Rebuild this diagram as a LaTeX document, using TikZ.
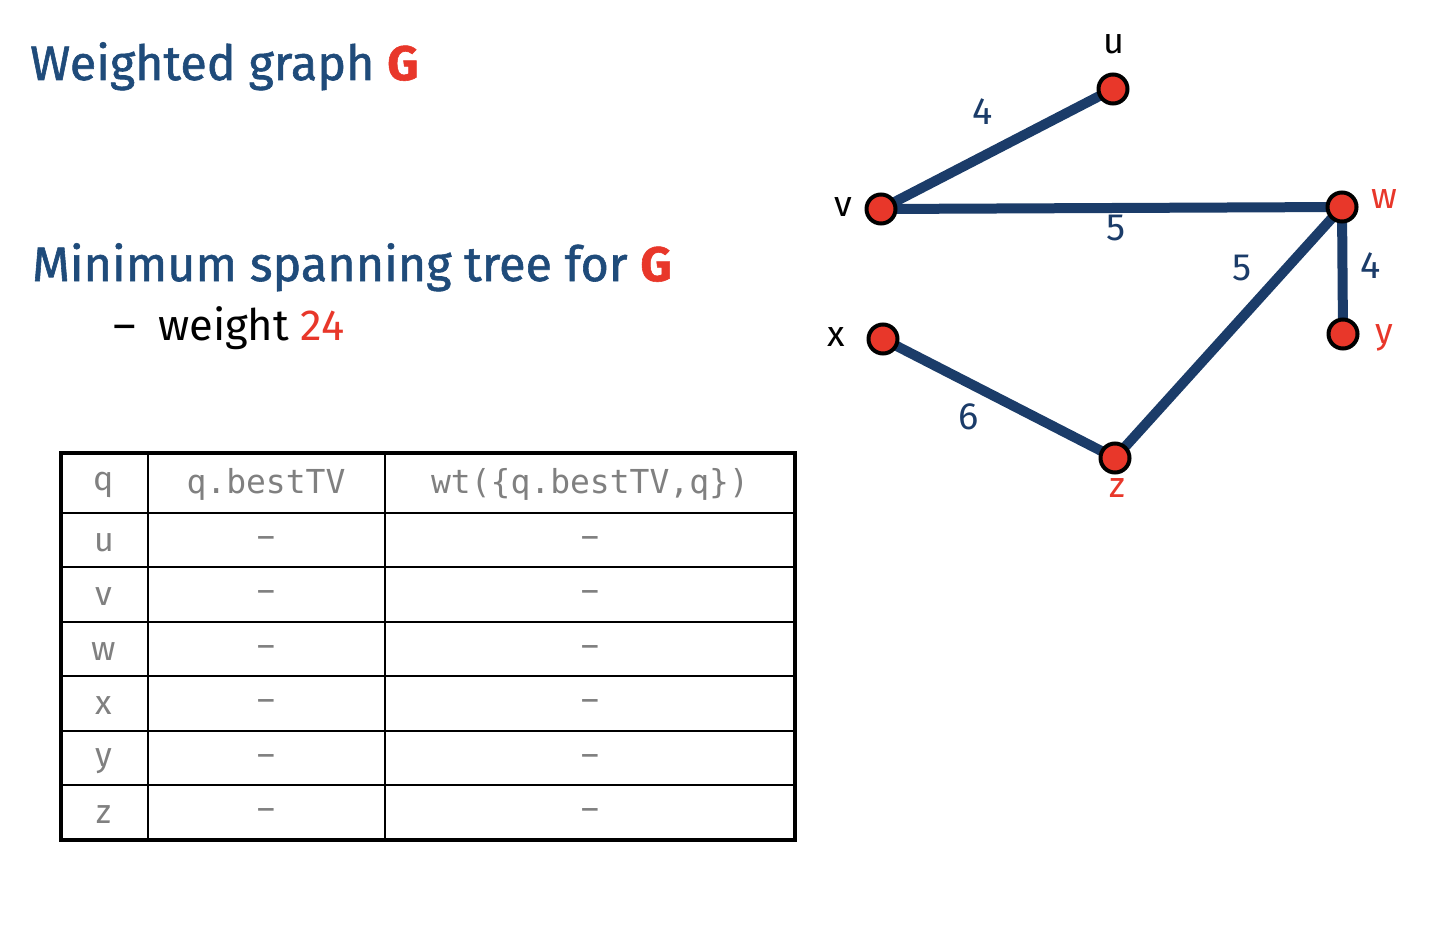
\documentclass[tikz,border=0pt]{standalone}
\usepackage{fontspec}
\setmainfont{Fira Sans}
\setmonofont{DejaVu Sans Mono}
\newfontfamily\headfont[FakeBold=1.2]{Fira Sans}
\usetikzlibrary{backgrounds}
\definecolor{navy}{HTML}{1B3C69}
\definecolor{titleblue}{HTML}{1F4B7A}
\definecolor{hot}{HTML}{E8372A}
\definecolor{cellgrey}{HTML}{808080}
\begin{document}
\begin{tikzpicture}[x=1pt,y=-1pt,
  vert/.style={circle,minimum size=29pt,inner sep=0pt,fill=hot,draw=black,line width=4pt},
  edge/.style={draw=navy,line width=10pt},
  vlabel/.style={font=\fontsize{36}{40}\selectfont,inner sep=0pt},
  wlabel/.style={font=\fontsize{38}{40}\selectfont,text=navy,inner sep=0pt},
  heading/.style={font=\headfont\fontsize{48.5}{52}\selectfont,text=titleblue,anchor=base west,inner sep=0pt},
  cell/.style={text=cellgrey,font=\fontsize{34}{36}\selectfont,inner sep=0pt},
  monocell/.style={text=cellgrey,font=\ttfamily\fontsize{33}{36}\selectfont,inner sep=0pt},
  thin rule/.style={line width=2pt},
  thick rule/.style={line width=4pt}]
\useasboundingbox (0,0) rectangle (1456,942);

% headings
\node[heading] (t1) at (30,80) {Weighted graph \textcolor{hot}{\bfseries G}};
\node[heading] (t2) at (32,281) {Minimum spanning tree for \textcolor{hot}{\bfseries G}};
\node[anchor=base west,inner sep=0pt,font=\fontsize{43.5}{46}\selectfont] (dash) at (113,340) {–};
\node[anchor=base west,inner sep=0pt,font=\fontsize{43.5}{46}\selectfont] (wt) at (158,340) {weight \textcolor{hot}{24}};

% vertices
\node[vert] (u) at (1113,89) {};
\node[vert] (v) at (881,209) {};
\node[vert] (w) at (1342,207) {};
\node[vert] (x) at (883,339) {};
\node[vert] (y) at (1343,334) {};
\node[vert] (z) at (1115,458) {};

% edges of the spanning tree
\begin{scope}[on background layer]
\draw[edge] (v.center) -- (u.center);
\draw[edge] (v.center) -- (w.center);
\draw[edge] (w.center) -- (y.center);
\draw[edge] (w.center) -- (z.center);
\draw[edge] (x.center) -- (z.center);
\end{scope}

% vertex names
\node[vlabel] (lu) at (1114,44) {u};
\node[vlabel] (lv) at (843,207) {v};
\node[vlabel,text=hot] (lw) at (1384,199) {w};
\node[vlabel] (lx) at (836,337) {x};
\node[vlabel,text=hot] (ly) at (1384,338) {y};
\node[vlabel,text=hot] (lz) at (1117,488) {z};

% weights
\node[wlabel] (e1) at (983,112) {4};
\node[wlabel] (e2) at (1116,228) {5};
\node[wlabel] (e3) at (1242,268) {5};
\node[wlabel] (e4) at (1371,266) {4};
\node[wlabel] (e5) at (969,417) {6};

% table
\foreach \yy in {513,567,622,676,731,785}
  \draw[thin rule] (61,\yy) -- (795,\yy);
\draw[thin rule] (148,453) -- (148,840);
\draw[thin rule] (385,453) -- (385,840);
\draw[thick rule] (61,453) rectangle (795,840);

\node[cell] (hq) at (104,485) {q};
\node[monocell] (hb) at (266,484) {q.bestTV};
\node[monocell] (hw) at (590,484) {wt(\{q.bestTV,q\})};
\foreach \nm/\yy in {u/543,v/597,w/652,x/706,y/761,z/815}{
  \node[cell] (r\nm) at (104,\yy) {\nm};
  \node[cell] (b\nm) at (266,\yy) {–};
  \node[cell] (c\nm) at (590,\yy) {–};
}
\end{tikzpicture}
\end{document}
